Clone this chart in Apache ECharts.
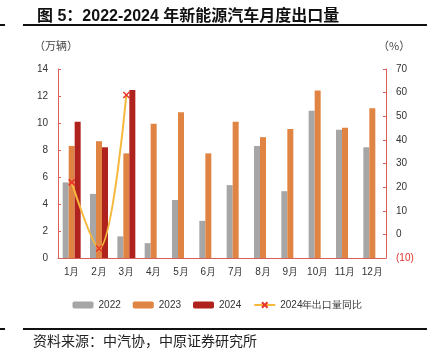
<!DOCTYPE html>
<html><head><meta charset="utf-8">
<script src="https://cdn.jsdelivr.net/npm/echarts@6/dist/echarts.min.js"></script>
<style>html,body{margin:0;padding:0;background:#fff}#c{width:435px;height:361px}</style>
</head><body><div id="c"></div>
<script>
var categories = ['1月','2月','3月','4月','5月','6月','7月','8月','9月','10月','11月','12月'];
var s2022 = [5.6, 4.75, 1.6, 1.1, 4.3, 2.75, 5.4, 8.3, 4.95, 10.9, 9.5, 8.2];
var s2023 = [8.3, 8.65, 7.75, 9.95, 10.8, 7.75, 10.1, 8.95, 9.55, 12.4, 9.65, 11.1];
var s2024 = [10.1, 8.2, 12.45, null, null, null, null, null, null, null, null, null];
var yoy2024 = [22, -6, 59, null, null, null, null, null, null, null, null, null];
var leftTicks = [0, 2, 4, 6, 8, 10, 12, 14];
var rightTicks = [-10, 0, 10, 20, 30, 40, 50, 60, 70];

var axisRed = '#D9605A';
var xPath = 'path://M0,0L10,10M10,0L0,10';
var chart = echarts.init(document.getElementById('c'), null, {renderer: 'canvas'});
chart.setOption({
  animation: false,
  textStyle: {fontFamily: 'Liberation Sans, Arial, sans-serif'},
  title: {
    text: '图 5：2022-2024 年新能源汽车月度出口量',
    left: 32, top: 4,
    textStyle: {fontSize: 16, fontWeight: 'bold', color: '#111', fontFamily: 'Liberation Sans, "Noto Sans CJK SC", sans-serif'}
  },
  graphic: [
    {type: 'rect', shape: {x: 23, y: 24, width: 404, height: 2}, style: {fill: '#111'}},
    {type: 'rect', shape: {x: 0, y: 24, width: 5, height: 2}, style: {fill: '#111'}},
    {type: 'rect', shape: {x: 23, y: 328, width: 404, height: 2}, style: {fill: '#111'}},
    {type: 'rect', shape: {x: 0, y: 328, width: 5, height: 2}, style: {fill: '#111'}},
    {type: 'text', left: 34, top: 40, style: {text: '（万辆）', fontSize: 11, fill: '#444', fontFamily: '"Noto Sans CJK SC", sans-serif'}},
    {type: 'text', left: 378, top: 40, style: {text: '（%）', fontSize: 11, fill: '#444', fontFamily: '"Noto Sans CJK SC", sans-serif'}},
    {type: 'text', left: 33, top: 334, style: {text: '资料来源：中汽协，中原证券研究所', fontSize: 14, fill: '#222', fontFamily: '"Noto Sans CJK SC", serif'}}
  ],
  legend: {
    bottom: 46, left: 'center',
    itemWidth: 21, itemHeight: 7, itemGap: 12,
    textStyle: {fontSize: 10, color: '#333'},
    data: ['2022', '2023', '2024', '2024年出口量同比']
  },
  grid: {left: 58, right: 49, top: 69, bottom: 103},
  xAxis: {
    type: 'category', data: categories,
    axisLine: {lineStyle: {color: axisRed, width: 1}},
    axisTick: {inside: true, length: 4, lineStyle: {color: axisRed}},
    axisLabel: {fontSize: 10, color: '#333', margin: 9, interval: 0}
  },
  yAxis: [
    {
      type: 'value', min: leftTicks[0], max: leftTicks[leftTicks.length - 1], interval: 2,
      axisLine: {show: true, lineStyle: {color: axisRed}},
      axisTick: {show: true, inside: true, length: 3, lineStyle: {color: axisRed}},
      splitLine: {show: false},
      axisLabel: {fontSize: 10, color: '#333', margin: 10}
    },
    {
      type: 'value', min: rightTicks[0], max: rightTicks[rightTicks.length - 1], interval: 10,
      axisLine: {show: true, lineStyle: {color: axisRed}},
      axisTick: {show: true, inside: true, length: 3, lineStyle: {color: axisRed}},
      splitLine: {show: false},
      axisLabel: {
        fontSize: 10, margin: 10,
        formatter: function (v) { return v < 0 ? '(' + Math.abs(v) + ')' : String(v); },
        color: function (v) { return Number(v) < 0 ? '#E0302A' : '#333'; }
      }
    }
  ],
  series: [
    {name: '2022', type: 'bar', data: s2022, barWidth: 6, barGap: '0%', itemStyle: {color: '#A6A6A6'}},
    {name: '2023', type: 'bar', data: s2023, barWidth: 6, barGap: '0%', itemStyle: {color: '#E08443'}},
    {name: '2024', type: 'bar', data: s2024, barWidth: 6, barGap: '0%', itemStyle: {color: '#B0221D'}},
    {
      name: '2024年出口量同比', type: 'line', yAxisIndex: 1, data: yoy2024, smooth: 0.35,
      symbol: xPath, symbolSize: 6,
      lineStyle: {color: '#F6B93B', width: 2},
      itemStyle: {color: '#F6B93B', borderColor: '#E8332A', borderWidth: 1.5}
    }
  ]
});
</script></body></html>
